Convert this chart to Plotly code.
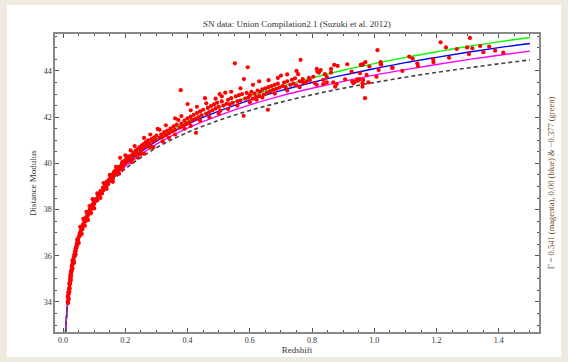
import plotly.graph_objects as go

# ---------------- data ----------------
title_text = "SN data: Union Compilation2.1 (Suzuki et al. 2012)"
x_title = "Redshift"
y_title = "Distance Modulus"
right_label = "Γ = 0.541 (magenta), 0.00 (blue) &amp; −0.377 (green)"

x_tickvals = [0.0, 0.2, 0.4, 0.6, 0.8, 1.0, 1.2, 1.4]
y_tickvals = [34, 36, 38, 40, 42, 44]

# model curves
model_z = [0.008, 0.01, 0.02, 0.03, 0.05, 0.07, 0.1, 0.15, 0.2, 0.3, 0.4, 0.5, 0.6,
           0.7, 0.8, 0.9, 1.0, 1.1, 1.2, 1.3, 1.4, 1.5]
mu_eds = [32.70, 33.16, 34.67, 35.55, 36.67, 37.40, 38.21, 39.11, 39.76, 40.68, 41.34,
          41.86, 42.29, 42.65, 42.97, 43.25, 43.50, 43.73, 43.94, 44.13, 44.31, 44.48]
mu_magenta = [32.70, 33.17, 34.69, 35.57, 36.71, 37.45, 38.27, 39.19, 39.87, 40.83, 41.53,
              42.07, 42.53, 42.92, 43.25, 43.55, 43.82, 44.06, 44.28, 44.49, 44.68, 44.86]
mu_blue = [32.70, 33.18, 34.70, 35.59, 36.74, 37.50, 38.32, 39.27, 39.96, 40.96, 41.69,
           42.26, 42.74, 43.15, 43.50, 43.82, 44.10, 44.36, 44.59, 44.81, 45.01, 45.19]
mu_green = [32.70, 33.19, 34.71, 35.60, 36.77, 37.54, 38.36, 39.33, 40.03, 41.06, 41.82,
            42.41, 42.91, 43.33, 43.70, 44.03, 44.32, 44.59, 44.83, 45.06, 45.26, 45.45]

# supernovae (z, mu), by redshift band
sn_lowz = [
    (0.015, 34.02), (0.015, 34.21), (0.016, 33.95), (0.016, 34.30), (0.017, 34.18),
    (0.017, 34.42), (0.018, 34.35), (0.018, 34.12), (0.019, 34.55), (0.019, 34.40),
    (0.020, 34.62), (0.020, 34.81), (0.021, 34.75), (0.021, 34.58), (0.022, 34.95),
    (0.022, 34.80), (0.023, 34.88), (0.023, 35.10), (0.024, 35.02), (0.024, 35.20),
    (0.025, 35.15), (0.025, 35.32), (0.026, 35.28), (0.026, 35.12), (0.027, 35.40),
    (0.028, 35.35), (0.028, 35.55), (0.029, 35.50), (0.030, 35.62), (0.030, 35.45),
    (0.031, 35.70), (0.032, 35.66), (0.033, 35.85), (0.034, 35.78), (0.035, 35.95),
    (0.036, 36.05), (0.037, 35.98), (0.038, 36.18), (0.039, 36.10), (0.040, 36.30),
    (0.041, 36.22), (0.042, 36.40), (0.043, 36.35), (0.044, 36.52), (0.045, 36.46),
    (0.046, 36.60), (0.048, 36.68), (0.049, 36.58), (0.050, 36.80), (0.052, 36.85),
    (0.053, 36.95), (0.055, 36.90), (0.056, 37.05), (0.058, 37.12), (0.060, 37.20),
    (0.062, 37.15), (0.063, 37.32), (0.065, 37.38), (0.067, 37.30), (0.068, 37.50),
    (0.070, 37.55), (0.072, 37.48), (0.073, 37.65), (0.075, 37.62), (0.077, 37.72),
    (0.079, 37.80), (0.080, 37.75), (0.082, 37.90), (0.084, 37.86), (0.086, 38.02),
    (0.088, 37.98), (0.090, 38.10), (0.092, 38.05), (0.094, 38.22), (0.096, 38.15),
    (0.098, 38.30), (0.100, 38.25),
    (0.020, 34.45), (0.025, 34.95), (0.030, 35.80), (0.035, 35.70), (0.040, 36.05),
    (0.045, 36.70), (0.050, 36.55), (0.055, 37.25), (0.060, 36.95), (0.065, 37.60),
    (0.070, 37.30), (0.075, 37.90), (0.080, 37.55), (0.085, 38.15), (0.090, 37.85),
    (0.095, 38.45), (0.100, 38.05),
]
sn_midz = [
    (0.105, 38.45), (0.110, 38.40), (0.112, 38.62), (0.118, 38.55), (0.120, 38.80),
    (0.125, 38.70), (0.128, 38.95), (0.130, 38.85), (0.135, 39.05), (0.138, 38.98),
    (0.140, 39.20), (0.143, 39.10), (0.147, 39.30), (0.150, 39.22), (0.152, 39.45),
    (0.155, 39.35), (0.158, 39.50), (0.160, 39.40), (0.163, 39.62), (0.165, 39.48),
    (0.168, 39.70), (0.170, 39.58), (0.173, 39.75), (0.176, 39.65), (0.180, 39.85),
    (0.183, 40.24), (0.185, 39.80), (0.188, 39.95), (0.190, 40.05), (0.190, 39.75),
    (0.193, 39.90), (0.196, 40.10), (0.200, 40.02), (0.203, 40.20), (0.206, 40.12),
    (0.210, 40.30), (0.213, 40.22), (0.217, 40.56), (0.220, 40.35), (0.223, 40.18),
    (0.226, 40.45), (0.230, 40.38), (0.233, 40.55), (0.236, 40.48), (0.240, 40.62),
    (0.243, 40.42), (0.246, 40.70), (0.250, 40.58), (0.250, 40.40), (0.253, 40.78),
    (0.256, 40.65), (0.260, 40.85), (0.263, 40.72), (0.266, 40.92), (0.270, 40.80),
    (0.273, 41.00), (0.276, 40.88), (0.280, 40.75), (0.280, 40.68), (0.284, 41.05),
    (0.288, 40.95), (0.292, 41.12), (0.296, 41.02), (0.300, 41.20), (0.304, 41.49),
    (0.310, 41.10), (0.315, 41.25), (0.320, 41.15), (0.325, 41.35), (0.330, 41.22),
    (0.335, 41.42), (0.340, 41.30), (0.345, 41.50), (0.350, 41.38), (0.355, 41.60),
    (0.360, 41.45), (0.365, 41.68), (0.370, 41.88), (0.375, 41.55), (0.378, 43.17),
    (0.380, 41.72), (0.385, 41.62), (0.390, 41.85), (0.395, 41.70), (0.400, 42.57),
    (0.400, 41.95), (0.405, 41.78), (0.410, 42.02), (0.415, 41.88), (0.420, 42.10),
    (0.425, 41.92), (0.427, 41.32), (0.430, 42.18), (0.435, 42.00), (0.440, 42.25),
    (0.445, 42.08), (0.450, 42.32), (0.456, 42.82), (0.460, 42.15), (0.465, 42.40),
    (0.470, 42.22), (0.475, 42.48), (0.480, 42.30), (0.485, 42.55), (0.490, 42.38),
    (0.495, 42.62), (0.500, 42.45), (0.503, 43.00), (0.505, 42.28), (0.510, 42.68),
    (0.515, 42.50), (0.521, 43.06), (0.525, 42.58), (0.530, 42.75), (0.535, 42.55),
    (0.540, 42.82), (0.545, 42.62), (0.552, 44.33), (0.555, 42.90), (0.560, 42.68),
    (0.565, 42.95), (0.570, 42.72), (0.575, 43.00), (0.580, 42.06), (0.581, 43.65),
    (0.585, 42.80), (0.590, 43.05), (0.593, 44.16), (0.595, 42.85),
    (0.600, 42.95), (0.605, 43.10), (0.610, 42.80), (0.615, 43.02), (0.620, 42.88),
    (0.622, 42.75), (0.625, 43.15), (0.630, 42.92), (0.633, 43.10), (0.640, 43.20),
    (0.645, 42.98), (0.650, 43.25), (0.655, 43.05), (0.658, 42.32), (0.660, 43.30),
    (0.665, 43.12), (0.670, 43.35), (0.675, 43.18), (0.680, 43.40), (0.685, 43.22),
    (0.690, 43.45), (0.695, 43.28), (0.700, 43.80), (0.705, 43.35), (0.710, 43.50),
    (0.715, 43.30), (0.720, 43.55), (0.730, 43.40), (0.735, 43.62), (0.740, 43.45),
    (0.745, 43.68), (0.750, 43.38), (0.755, 43.86), (0.760, 43.55), (0.763, 44.48),
    (0.770, 43.65), (0.780, 43.48), (0.790, 43.70),
    (0.110, 38.70), (0.120, 38.50), (0.130, 39.15), (0.140, 38.90), (0.150, 39.50),
    (0.160, 39.20), (0.170, 39.85), (0.180, 39.55), (0.200, 40.35), (0.220, 40.05),
    (0.230, 40.75), (0.240, 40.25), (0.260, 41.10), (0.260, 40.42), (0.280, 41.25),
    (0.290, 40.70), (0.310, 41.45), (0.320, 40.95), (0.330, 41.65), (0.340, 41.10),
    (0.360, 41.95), (0.360, 41.25), (0.380, 42.05), (0.390, 41.50), (0.410, 42.30),
    (0.410, 41.62), (0.430, 42.45), (0.440, 41.85), (0.460, 42.60), (0.470, 42.00),
    (0.490, 42.80), (0.500, 42.15), (0.510, 42.90), (0.530, 42.35), (0.540, 43.10),
    (0.560, 42.50), (0.570, 43.25), (0.600, 42.65), (0.610, 43.40), (0.630, 43.55),
    (0.640, 42.85), (0.660, 43.60), (0.680, 43.02), (0.690, 43.70), (0.720, 43.15),
    (0.720, 43.85), (0.750, 44.00), (0.760, 43.30),
]
sn_highz = [
    (0.771, 43.50), (0.782, 43.54), (0.793, 43.61), (0.804, 43.75), (0.809, 43.47),
    (0.815, 43.40), (0.815, 44.09), (0.817, 43.97), (0.822, 43.93), (0.828, 44.04),
    (0.836, 43.61), (0.836, 43.43), (0.841, 43.86), (0.847, 43.51), (0.847, 43.75),
    (0.861, 43.93), (0.861, 44.09), (0.868, 43.51), (0.871, 44.26), (0.874, 43.32),
    (0.879, 43.43), (0.882, 44.22), (0.906, 43.64), (0.913, 44.29), (0.927, 43.97),
    (0.929, 43.54), (0.933, 43.47), (0.938, 43.54), (0.945, 43.64), (0.947, 43.58),
    (0.952, 43.64), (0.954, 43.90), (0.956, 44.26), (0.962, 43.47), (0.962, 44.26),
    (0.962, 43.32), (0.963, 44.30), (0.964, 43.61), (0.970, 42.82), (0.971, 44.38),
    (0.975, 43.83), (0.981, 43.51), (0.984, 44.19), (1.007, 43.75), (1.010, 44.90),
    (1.014, 44.04), (1.020, 44.38), (1.021, 44.29), (1.022, 44.27), (1.057, 44.13),
    (1.059, 44.14), (1.090, 44.00), (1.112, 44.62), (1.123, 44.53), (1.138, 44.33),
    (1.140, 44.22), (1.189, 44.50), (1.190, 44.38), (1.213, 45.24), (1.230, 45.02),
    (1.240, 44.57), (1.265, 44.95), (1.298, 45.02), (1.304, 44.73), (1.307, 45.43),
    (1.315, 44.98), (1.340, 45.08), (1.350, 44.81), (1.369, 45.05), (1.388, 44.88),
    (1.414, 44.79),
]

sn_all = sn_lowz + sn_midz + sn_highz
sn_z = [p[0] for p in sn_all]
sn_mu = [p[1] for p in sn_all]

# ---------------- figure ----------------
FONT = "Liberation Serif, Times New Roman, serif"
W, H = 568, 362
ML, MR, MT, MB = 55, 29, 34, 30
PW, PH = W - ML - MR, H - MT - MB


def px_x(px):
    return (px - ML) / PW


def px_y(py):
    return (H - MB - py) / PH


fig = go.Figure()

fig.add_trace(go.Scatter(x=model_z, y=mu_green, mode="lines",
                         line=dict(color="#00FF00", width=1.4, shape="spline"),
                         showlegend=False, hoverinfo="skip"))
fig.add_trace(go.Scatter(x=model_z, y=mu_blue, mode="lines",
                         line=dict(color="#0000FF", width=1.4, shape="spline"),
                         showlegend=False, hoverinfo="skip"))
fig.add_trace(go.Scatter(x=model_z, y=mu_magenta, mode="lines",
                         line=dict(color="#FF00FF", width=1.4, shape="spline"),
                         showlegend=False, hoverinfo="skip"))
fig.add_trace(go.Scatter(x=model_z, y=mu_eds, mode="lines",
                         line=dict(color="#444444", width=1.6, dash="4px,3px", shape="spline"),
                         showlegend=False, hoverinfo="skip"))
fig.add_trace(go.Scatter(x=sn_z, y=sn_mu, mode="markers",
                         marker=dict(color="#FF0000", size=4.2, line=dict(width=0)),
                         showlegend=False))
# invisible trace on right axis to carry the right-hand label
fig.add_trace(go.Scatter(x=[0.5], y=[40], yaxis="y2", mode="markers",
                         marker=dict(opacity=0), showlegend=False, hoverinfo="skip"))

axis_common = dict(
    showgrid=False, zeroline=False, showline=True, linecolor="#888888", linewidth=1.5,
    mirror="ticks", ticks="inside", ticklen=4, tickwidth=1, tickcolor="#555555",
    tickfont=dict(family=FONT, size=8, color="#333333"),
)

fig.update_layout(
    xaxis=dict(range=[-0.026, 1.529], tickvals=x_tickvals, tickformat=".1f",
               minor=dict(dtick=0.05, tick0=0, ticks="inside", ticklen=2.5,
                          tickcolor="#555555", tickwidth=1),
               title=dict(text=x_title, font=dict(family=FONT, size=9, color="#333333"),
                          standoff=1),
               automargin=False, **axis_common),
    yaxis=dict(range=[32.7, 45.6], tickvals=y_tickvals, tickformat="d",
               minor=dict(dtick=0.5, tick0=0, ticks="inside", ticklen=2.5,
                          tickcolor="#555555", tickwidth=1),
               title=dict(text=y_title, font=dict(family=FONT, size=9, color="#333333"),
                          standoff=6),
               automargin=False, **axis_common),
    yaxis2=dict(overlaying="y", side="right", range=[32.7, 45.6], showgrid=False,
                zeroline=False, showline=False, ticks="", showticklabels=False,
                automargin=False,
                title=dict(text=right_label, standoff=9,
                           font=dict(family=FONT, size=8.5, color="#6b4a2a"))),
)

annotations = [
    dict(text=title_text, x=px_x(297), y=px_y(24), xref="paper", yref="paper",
         showarrow=False, font=dict(family=FONT, size=9, color="#333333"),
         xanchor="center", yanchor="middle"),
]

shapes = [
    dict(type="rect", xref="paper", yref="paper", layer="below",
         x0=px_x(7), x1=px_x(561), y0=px_y(357), y1=px_y(5),
         fillcolor="white", line=dict(width=0)),
]

fig.update_layout(
    width=W, height=H, autosize=False,
    margin=dict(l=ML, r=MR, t=MT, b=MB, pad=0),
    paper_bgcolor="#EEEAE0", plot_bgcolor="white",
    annotations=annotations, shapes=shapes,
    font=dict(family=FONT),
)

fig.write_html("out.html", config={"displayModeBar": False},
               post_script="document.body.style.margin='0';document.body.style.overflow='hidden';")
